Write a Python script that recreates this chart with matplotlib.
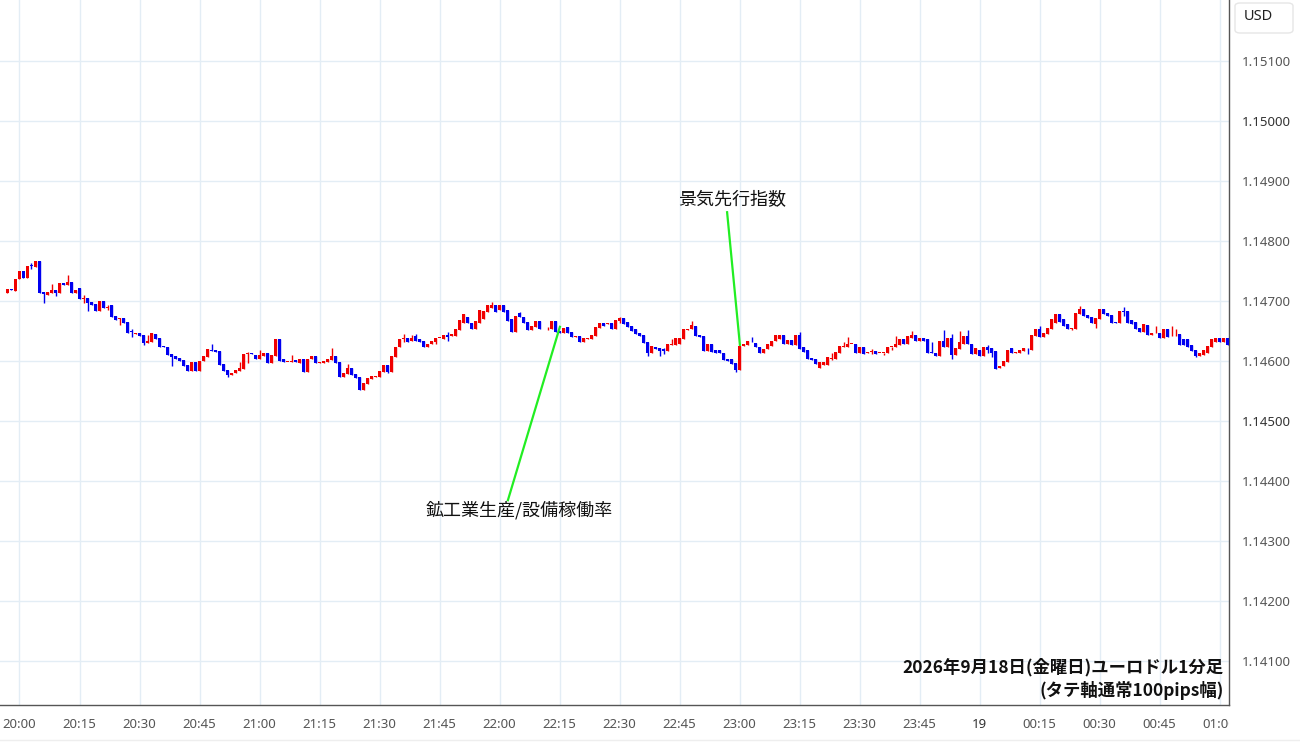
import numpy as np
import matplotlib.pyplot as plt
from matplotlib.patches import FancyBboxPatch
from matplotlib.transforms import Bbox, TransformedBbox

# EUR/USD 1-minute candles, 19:57 -> 01:02
opens = [
    1.14714, 1.14720, 1.14717, 1.14736, 1.14750, 1.14739, 1.14759, 1.14756, 1.14767, 1.14715,
    1.14710, 1.14714, 1.14718, 1.14714, 1.14730, 1.14726, 1.14732, 1.14714, 1.14722, 1.14703,
    1.14705, 1.14698, 1.14695, 1.14683, 1.14700, 1.14689, 1.14693, 1.14675, 1.14670, 1.14672,
    1.14665, 1.14650, 1.14645, 1.14647, 1.14643, 1.14630, 1.14632, 1.14645, 1.14638, 1.14625,
    1.14624, 1.14612, 1.14608, 1.14605, 1.14602, 1.14593, 1.14584, 1.14598, 1.14584, 1.14600,
    1.14607, 1.14619, 1.14618, 1.14617, 1.14595, 1.14585, 1.14577, 1.14580, 1.14583, 1.14587,
    1.14612, 1.14613, 1.14610, 1.14603, 1.14608, 1.14614, 1.14597, 1.14609, 1.14637, 1.14603,
    1.14598, 1.14598, 1.14602, 1.14597, 1.14603, 1.14582, 1.14603, 1.14609, 1.14597, 1.14597,
    1.14599, 1.14602, 1.14609, 1.14599, 1.14574, 1.14578, 1.14589, 1.14578, 1.14573, 1.14552,
    1.14562, 1.14570, 1.14574, 1.14573, 1.14582, 1.14593, 1.14582, 1.14607, 1.14623, 1.14637,
    1.14638, 1.14633, 1.14641, 1.14637, 1.14633, 1.14623, 1.14628, 1.14632, 1.14638, 1.14637,
    1.14644, 1.14641, 1.14642, 1.14652, 1.14664, 1.14673, 1.14664, 1.14654, 1.14663, 1.14670,
    1.14682, 1.14688, 1.14693, 1.14685, 1.14693, 1.14685, 1.14670, 1.14649, 1.14680, 1.14674,
    1.14665, 1.14652, 1.14656, 1.14667, 1.14656, 1.14656, 1.14654, 1.14667, 1.14650, 1.14646,
    1.14656, 1.14649, 1.14640, 1.14641, 1.14632, 1.14637, 1.14636, 1.14642, 1.14655, 1.14663,
    1.14662, 1.14663, 1.14654, 1.14667, 1.14672, 1.14665, 1.14658, 1.14653, 1.14647, 1.14643,
    1.14631, 1.14614, 1.14624, 1.14621, 1.14620, 1.14617, 1.14627, 1.14627, 1.14629, 1.14636,
    1.14652, 1.14653, 1.14658, 1.14643, 1.14642, 1.14617, 1.14628, 1.14618, 1.14618, 1.14614,
    1.14603, 1.14603, 1.14597, 1.14585, 1.14625, 1.14627, 1.14632, 1.14630, 1.14623, 1.14613,
    1.14620, 1.14625, 1.14634, 1.14637, 1.14644, 1.14629, 1.14635, 1.14627, 1.14643, 1.14624,
    1.14618, 1.14605, 1.14603, 1.14589, 1.14594, 1.14594, 1.14604, 1.14603, 1.14614, 1.14624,
    1.14624, 1.14628, 1.14629, 1.14614, 1.14623, 1.14613, 1.14615, 1.14617, 1.14613, 1.14613,
    1.14614, 1.14623, 1.14624, 1.14627, 1.14636, 1.14628, 1.14639, 1.14644, 1.14634, 1.14639,
    1.14637, 1.14615, 1.14614, 1.14609, 1.14634, 1.14624, 1.14639, 1.14610, 1.14620, 1.14629,
    1.14641, 1.14629, 1.14612, 1.14618, 1.14609, 1.14624, 1.14621, 1.14617, 1.14588, 1.14591,
    1.14599, 1.14621, 1.14614, 1.14614, 1.14617, 1.14622, 1.14619, 1.14642, 1.14653, 1.14640,
    1.14645, 1.14654, 1.14664, 1.14678, 1.14670, 1.14661, 1.14654, 1.14654, 1.14678, 1.14686,
    1.14677, 1.14674, 1.14662, 1.14670, 1.14686, 1.14680, 1.14677, 1.14665, 1.14664, 1.14684,
    1.14684, 1.14668, 1.14665, 1.14655, 1.14649, 1.14660, 1.14643, 1.14646, 1.14647, 1.14638,
    1.14653, 1.14641, 1.14641, 1.14645, 1.14636, 1.14636, 1.14627, 1.14619, 1.14608, 1.14610,
    1.14614, 1.14623, 1.14631, 1.14638, 1.14631, 1.14638,
]
closes = [
    1.14720, 1.14719, 1.14736, 1.14750, 1.14739, 1.14759, 1.14758, 1.14767, 1.14714, 1.14711,
    1.14715, 1.14718, 1.14714, 1.14730, 1.14726, 1.14732, 1.14714, 1.14719, 1.14704, 1.14705,
    1.14697, 1.14693, 1.14683, 1.14700, 1.14689, 1.14690, 1.14674, 1.14668, 1.14671, 1.14664,
    1.14646, 1.14649, 1.14646, 1.14642, 1.14630, 1.14634, 1.14646, 1.14637, 1.14624, 1.14624,
    1.14610, 1.14606, 1.14604, 1.14600, 1.14592, 1.14584, 1.14598, 1.14583, 1.14600, 1.14608,
    1.14620, 1.14617, 1.14615, 1.14593, 1.14584, 1.14577, 1.14580, 1.14585, 1.14589, 1.14612,
    1.14613, 1.14612, 1.14603, 1.14610, 1.14614, 1.14597, 1.14610, 1.14637, 1.14600, 1.14598,
    1.14599, 1.14600, 1.14598, 1.14603, 1.14582, 1.14603, 1.14609, 1.14597, 1.14598, 1.14600,
    1.14604, 1.14609, 1.14597, 1.14574, 1.14580, 1.14589, 1.14577, 1.14571, 1.14552, 1.14563,
    1.14572, 1.14575, 1.14575, 1.14584, 1.14593, 1.14582, 1.14608, 1.14624, 1.14637, 1.14638,
    1.14632, 1.14639, 1.14633, 1.14631, 1.14623, 1.14628, 1.14634, 1.14639, 1.14639, 1.14644,
    1.14640, 1.14645, 1.14653, 1.14668, 1.14678, 1.14663, 1.14654, 1.14667, 1.14685, 1.14683,
    1.14693, 1.14694, 1.14682, 1.14693, 1.14682, 1.14667, 1.14649, 1.14675, 1.14673, 1.14664,
    1.14652, 1.14658, 1.14667, 1.14653, 1.14657, 1.14657, 1.14667, 1.14649, 1.14646, 1.14655,
    1.14647, 1.14640, 1.14641, 1.14632, 1.14638, 1.14638, 1.14644, 1.14656, 1.14664, 1.14659,
    1.14663, 1.14654, 1.14668, 1.14672, 1.14661, 1.14657, 1.14650, 1.14645, 1.14642, 1.14630,
    1.14613, 1.14625, 1.14620, 1.14617, 1.14617, 1.14628, 1.14628, 1.14638, 1.14638, 1.14653,
    1.14653, 1.14660, 1.14642, 1.14640, 1.14617, 1.14629, 1.14615, 1.14613, 1.14614, 1.14602,
    1.14600, 1.14595, 1.14585, 1.14625, 1.14629, 1.14634, 1.14631, 1.14623, 1.14614, 1.14620,
    1.14628, 1.14634, 1.14643, 1.14644, 1.14629, 1.14635, 1.14627, 1.14643, 1.14620, 1.14615,
    1.14604, 1.14602, 1.14595, 1.14599, 1.14599, 1.14606, 1.14605, 1.14615, 1.14625, 1.14625,
    1.14629, 1.14629, 1.14614, 1.14624, 1.14612, 1.14615, 1.14617, 1.14611, 1.14614, 1.14614,
    1.14624, 1.14624, 1.14628, 1.14636, 1.14628, 1.14641, 1.14644, 1.14634, 1.14639, 1.14634,
    1.14614, 1.14614, 1.14609, 1.14634, 1.14624, 1.14639, 1.14610, 1.14621, 1.14632, 1.14641,
    1.14628, 1.14612, 1.14621, 1.14609, 1.14624, 1.14618, 1.14614, 1.14586, 1.14592, 1.14600,
    1.14618, 1.14614, 1.14615, 1.14619, 1.14621, 1.14621, 1.14643, 1.14653, 1.14640, 1.14647,
    1.14655, 1.14670, 1.14678, 1.14665, 1.14659, 1.14654, 1.14655, 1.14680, 1.14686, 1.14675,
    1.14671, 1.14663, 1.14671, 1.14686, 1.14678, 1.14675, 1.14664, 1.14664, 1.14684, 1.14682,
    1.14664, 1.14662, 1.14653, 1.14649, 1.14661, 1.14644, 1.14647, 1.14647, 1.14638, 1.14653,
    1.14640, 1.14642, 1.14642, 1.14627, 1.14627, 1.14623, 1.14617, 1.14608, 1.14613, 1.14619,
    1.14625, 1.14636, 1.14638, 1.14631, 1.14639, 1.14627,
]
# visible wick extremes (candle index -> price); other candles have no wick beyond the body
wick_high = {
    6: 1.14763, 11: 1.14729, 15: 1.14743, 19: 1.14710, 25: 1.14693, 31: 1.14653, 35: 1.14643,
    51: 1.14628, 58: 1.14599, 60: 1.14615, 63: 1.14618, 71: 1.14610, 81: 1.14621, 85: 1.14595,
    99: 1.14645, 101: 1.14643, 102: 1.14645, 110: 1.14649, 121: 1.14698, 128: 1.14682,
    153: 1.14674, 164: 1.14621, 166: 1.14636, 171: 1.14667, 186: 1.14640, 198: 1.14648,
    206: 1.14613, 209: 1.14632, 210: 1.14640, 216: 1.14620, 222: 1.14642, 226: 1.14650,
    231: 1.14631, 234: 1.14652, 236: 1.14645, 238: 1.14650, 240: 1.14652, 245: 1.14627,
    258: 1.14658, 268: 1.14692, 279: 1.14690, 287: 1.14658, 291: 1.14659, 292: 1.14654,
}
wick_low = {
    6: 1.14753, 9: 1.14697, 12: 1.14709, 19: 1.14696, 20: 1.14684, 25: 1.14685, 28: 1.14660,
    31: 1.14640, 34: 1.14627, 41: 1.14592, 55: 1.14574, 60: 1.14597, 95: 1.14580, 99: 1.14632,
    107: 1.14628, 110: 1.14634, 135: 1.14652, 153: 1.14664, 160: 1.14609, 163: 1.14609,
    164: 1.14612, 182: 1.14581, 206: 1.14602, 216: 1.14612, 219: 1.14610, 221: 1.14618,
    236: 1.14603, 245: 1.14613, 246: 1.14606, 255: 1.14611, 266: 1.14651, 272: 1.14655,
    279: 1.14675, 297: 1.14606,
}
first_minute = -3  # first candle is 19:57, minutes counted from 20:00

tick_minutes = list(range(0, 301, 15))
tick_labels = ["20:00", "20:15", "20:30", "20:45", "21:00", "21:15", "21:30", "21:45",
               "22:00", "22:15", "22:30", "22:45", "23:00", "23:15", "23:30", "23:45",
               "19", "00:15", "00:30", "00:45", "01:00"]
price_ticks = [1.141, 1.142, 1.143, 1.144, 1.145, 1.146, 1.147, 1.148, 1.149, 1.150, 1.151]
bold_prices = [1.145, 1.150]

events = [
    ("景気先行指数", (178.1, 1.14868), (176.9, 1.14848), (180.1, 1.14627)),
    ("鉱工業生産/設備稼働率", (124.9, 1.14352), (122.1, 1.14368), (135.1, 1.14657)),
]

jp_font = ["Noto Sans CJK JP", "DejaVu Sans"]
UP, DOWN = "#f00000", "#0000f0"
GRID = "#e3edf5"

o = np.array(opens)
c = np.array(closes)
x = np.arange(len(o)) + first_minute
hi = np.maximum(o, c)
lo = np.minimum(o, c)
for k, v in wick_high.items():
    hi[k] = max(hi[k], v)
for k, v in wick_low.items():
    lo[k] = min(lo[k], v)
colors = np.where(c >= o, UP, DOWN)

fig = plt.figure(figsize=(13, 7.45), dpi=100)
ax = fig.add_axes([0, 40 / 745, 1229 / 1300, 705 / 745])

ax.vlines(x, lo, hi, colors=colors, linewidth=1.0, zorder=3)
body_h = np.maximum(np.abs(c - o), 0.000014)
ax.bar(x, body_h, bottom=np.minimum(o, c), width=0.72, color=colors, linewidth=0, zorder=4)

ax.set_xlim(-4.875, 302.375)
ax.set_ylim(1.140267, 1.152017)

ax.set_xticks(tick_minutes)
ax.set_xticklabels(tick_labels)
ax.set_yticks(price_ticks)
ax.set_yticklabels([f"{p:.5f}" for p in price_ticks])
ax.yaxis.tick_right()
ax.tick_params(axis="both", length=0, labelsize=9.5, labelcolor="#555555")
ax.tick_params(axis="x", pad=9)
ax.tick_params(axis="y", pad=9)

# time labels are cut off at the price-axis edge, like the original widget
clip = TransformedBbox(Bbox([[3 / 1300, 0], [1229 / 1300, 1]]), fig.transFigure)
for lab in ax.get_xticklabels() + ax.get_yticklabels():
    lab.set_fontfamily("Noto Sans")
for lab, txt in zip(ax.get_xticklabels(), tick_labels):
    lab.set_clip_box(clip)
    lab.set_clip_on(True)
    if txt == "19":
        lab.set_fontweight("bold")
        lab.set_color("#333333")
for lab, p in zip(ax.get_yticklabels(), price_ticks):
    if p in bold_prices:
        lab.set_fontweight("bold")
        lab.set_color("#333333")

ax.grid(True, color=GRID, linewidth=1.0, zorder=0)
ax.set_axisbelow(True)
for side in ["top", "left"]:
    ax.spines[side].set_visible(False)
for side in ["bottom", "right"]:
    ax.spines[side].set_color("#555555")
    ax.spines[side].set_linewidth(1.0)

# economic release markers
for label, txt_xy, line_start, line_end in events:
    ax.plot([line_start[0], line_end[0]], [line_start[1], line_end[1]],
            color="#22ee22", linewidth=1.6, zorder=5)
    ax.text(txt_xy[0], txt_xy[1], label, ha="center", va="center",
            fontsize=13, family=jp_font, color="#111111", zorder=6)

fig.text(1224 / 1300, 1 - 667 / 745, "2026年9月18日(金曜日)ユーロドル1分足",
         ha="right", va="center", fontsize=12.5, fontweight="bold",
         family=jp_font, color="#111111")
fig.text(1224 / 1300, 1 - 690 / 745, "(タテ軸通常100pips幅)",
         ha="right", va="center", fontsize=12.5, fontweight="bold",
         family=jp_font, color="#111111")

# currency box at top right
box = FancyBboxPatch((1235 / 1300, 1 - 33 / 745), 58 / 1300, 30 / 745,
                     boxstyle="round,pad=0,rounding_size=0.004",
                     transform=fig.transFigure, facecolor="white",
                     edgecolor="#e6e6e6", linewidth=1.0)
fig.patches.append(box)
fig.text(1244 / 1300, 1 - 17 / 745, "USD", ha="left", va="center",
         fontsize=10.5, family="Noto Sans", color="#222222")

fig.add_artist(plt.Line2D([0, 1], [1 - 740 / 745] * 2, transform=fig.transFigure,
                          color="#eeeeee", linewidth=1.0))

fig.savefig("out.png", dpi=100)
